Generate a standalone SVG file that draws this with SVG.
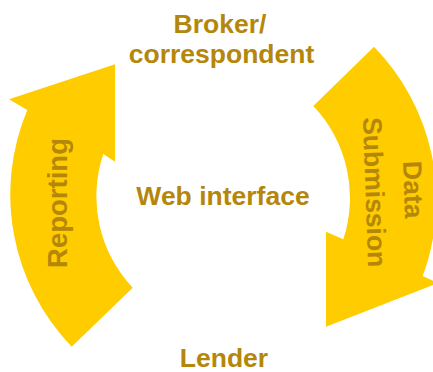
<svg xmlns="http://www.w3.org/2000/svg" width="433" height="372" viewBox="0 0 433 372">
<style>
.arrow{fill:#FFCC00;stroke:none}
.lbl{font-family:"Liberation Sans",Arial,sans-serif;font-weight:bold;font-size:26.5px;fill:#B4870B;text-anchor:middle}
.big{font-size:27.5px}
</style>
<rect width="433" height="372" fill="#ffffff"/>
<g id="connectors">
<g id="reporting-arrow">
<path class="arrow" d="M 132.7,287.7 A 133 133 0 0 1 103.3,154 L 115,161.7 L 115,64.3 L 9,99.3 L 27.3,110 A 219 219 0 0 0 71.7,346.7 Z"/>
<text class="lbl big" transform="translate(67,203) rotate(-90)">Reporting</text>
</g>
<g id="data-submission-arrow">
<path class="arrow" d="M 313.3,106 A 133 133 0 0 1 343.3,239.3 L 326,231.7 L 326,326.7 L 438,283 L 422.7,276 A 219 219 0 0 0 374,46.7 Z"/>
<text class="lbl" transform="translate(404,190) rotate(88)">Data</text>
<text class="lbl" transform="translate(365.5,192.5) rotate(88)">Submission</text>
</g>
</g>
<g id="broker">
<text class="lbl" x="220" y="33">Broker/</text>
<text class="lbl" x="221.5" y="63">correspondent</text>
</g>
<g id="web-interface">
<text class="lbl" x="223" y="205">Web interface</text>
</g>
<g id="lender">
<text class="lbl" x="224" y="366.5">Lender</text>
</g>
</svg>
